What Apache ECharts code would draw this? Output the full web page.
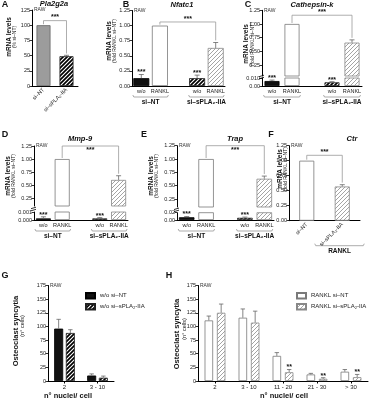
<!DOCTYPE html>
<html><head><meta charset="utf-8">
<script src="https://cdn.jsdelivr.net/npm/echarts@6/dist/echarts.min.js"></script>
<style>html,body{margin:0;padding:0;background:#fff}#c{width:374px;height:400px}</style>
</head><body><div id="c"></div>
<script>
// ---------------- DATA ----------------
const catsA = ['si–NT', 'si–sPLA₂-IIA'];
const valsA = [100, 49];
const errsA = [0, 1.5];

const catsBE = ['w/o', 'RANKL', '', 'w/o', 'RANKL'];
const groupNames = ['si–NT', 'si–sPLA₂-IIA'];
const starsBE = ['***', '', '', '***', ''];
const valsB = [0.13, 1.0, null, 0.13, 0.63];
const errsB = [0.06, 0, null, 0.05, 0.09];
const valsC = [0.0062, 1.0, null, 0.0046, 0.66];
const errsC = [0.0012, 0, null, 0.0008, 0.05];
const valsD = [0.0002, 1.0, null, 0.0002, 0.60];
const errsD = [0.0002, 0, null, 0.0001, 0.08];
const valsE = [0.0075, 1.0, null, 0.006, 0.63];
const errsE = [0.002, 0, null, 0.002, 0.05];

const catsF = ['si–NT', 'si–sPLA₂-IIA'];
const valsF = [1.0, 0.57];
const errsF = [0, 0.03];

const catsG = ['2', '3 - 10'];
const gNT = [96, 10], gNTErr = [17, 3];
const gSP = [88, 6], gSPErr = [6, 3];

const catsH = ['2', '3 - 10', '11 - 20', '21 - 30', '> 30'];
const hNT = [111, 116, 46, 12, 17], hNTErr = [8, 16, 6, 2, 4];
const hSP = [125, 107, 16, 4, 7], hSPErr = [16, 21, 5, 2, 5];
const hStars = ['', '', '**', '**', '**'];

const ticksPct = [0, 25, 50, 75, 100, 125];
const ticksFold = [0, 0.25, 0.5, 0.75, 1.0, 1.25];
const lowTicksC = [0, 0.01], lowTicksD = [0, 0.001], lowTicksE = [0, 0.02];
// ---------------------------------------

const FONT = '"Liberation Sans", Arial, sans-serif';
function hatch(fg, lw, size) {
  const c = document.createElement('canvas'); c.width = size; c.height = size;
  const g = c.getContext('2d'); g.fillStyle = '#fff'; g.fillRect(0, 0, size, size);
  g.strokeStyle = fg; g.lineWidth = lw; g.beginPath();
  g.moveTo(-1, size + 1); g.lineTo(size + 1, -1);
  g.moveTo(-1, 1); g.lineTo(1, -1);
  g.moveTo(size - 1, size + 1); g.lineTo(size + 1, size - 1);
  g.stroke(); return c;
}
const BH = { image: hatch('#000', 1.7, 4), repeat: 'repeat' };
const GH = { image: hatch('#9a9a9a', 0.9, 4), repeat: 'repeat' };
const ST = {
  black: { color: '#111', borderColor: '#000', borderWidth: 0.8 },
  white: { color: '#fff', borderColor: '#7a7a7a', borderWidth: 0.8 },
  grey: { color: '#9c9c9c', borderColor: '#666', borderWidth: 0.8 },
  bh: { color: BH, borderColor: '#222', borderWidth: 0.8 },
  gh: { color: GH, borderColor: '#888', borderWidth: 0.8 }
};

const grids = [], xAxes = [], yAxes = [], series = [];
let starTexts = [];
function axisX(gi, cats, show, extra) {
  xAxes.push(Object.assign({
    type: 'category', gridIndex: gi, data: cats, show: show,
    axisLine: { lineStyle: { color: '#000', width: 1 } },
    axisTick: { show: false },
    axisLabel: { interval: 0, fontSize: 5.5, color: '#222', margin: 2.5, fontFamily: FONT }
  }, extra || {}));
  return xAxes.length - 1;
}
function axisY(gi, min, max, ticks, fmt) {
  yAxes.push({
    type: 'value', gridIndex: gi, min: min, max: max, splitLine: { show: false },
    axisLine: { show: true, lineStyle: { color: '#000', width: 1 } },
    axisTick: { show: true, length: 2.5, customValues: ticks, lineStyle: { color: '#000', width: 0.8 } },
    axisLabel: { customValues: ticks, formatter: fmt, fontSize: 5.5, color: '#222', margin: 2, fontFamily: FONT }
  });
  return yAxes.length - 1;
}
function errSeries(xi, yi, items, offset, cap) {
  series.push({
    type: 'custom', xAxisIndex: xi, yAxisIndex: yi, clip: false, silent: true, z: 5,
    data: items,
    renderItem: function (params, api) {
      const c = api.value(0), v = api.value(1), e = api.value(2), s = starTexts[api.value(3)];
      const p0 = api.coord([c, v]), p1 = api.coord([c, v + e]);
      const x = p0[0] + offset, ch = [];
      if (e > 0) {
        ch.push({ type: 'line', shape: { x1: x, y1: p0[1], x2: x, y2: p1[1] }, style: { stroke: '#666', lineWidth: 0.8 } });
        ch.push({ type: 'line', shape: { x1: x - cap, y1: p1[1], x2: x + cap, y2: p1[1] }, style: { stroke: '#666', lineWidth: 0.8 } });
      }
      if (s) ch.push({ type: 'text', style: { text: s, x: x, y: p1[1] + 1.5, textAlign: 'center', align: 'center', textVerticalAlign: 'bottom', verticalAlign: 'bottom', fill: '#111', font: 'bold 7px ' + FONT } });
      return { type: 'group', children: ch };
    }
  });
}
function starIdx(s) { starTexts.push(s); return starTexts.length - 1; }

function barPanel(p) {
  const out = {};
  const fmt = p.fmt;
  const data = (filter) => p.vals.map((v, i) => (v == null || (filter && v < filter)) ? '-' : { value: v, itemStyle: ST[p.styles[i]] });
  if (!p.brk) {
    grids.push({ left: p.left, top: p.top, width: p.width, height: p.base - p.top });
    const gi = grids.length - 1;
    const xi = axisX(gi, p.cats, true, p.xExtra);
    const yi = axisY(gi, p.min || 0, p.max, p.ticks, fmt);
    series.push({ type: 'bar', xAxisIndex: xi, yAxisIndex: yi, data: data(), barWidth: p.bw, clip: true });
    const items = [];
    p.vals.forEach((v, i) => { if (v != null) items.push([i, v, p.errs[i], starIdx(p.stars ? p.stars[i] : '')]); });
    errSeries(xi, yi, items, 0, 2.5);
    out.up = out.low = { xi, yi };
  } else {
    const b = p.brk;
    grids.push({ left: p.left, top: p.top, width: p.width, height: b.ubottom - p.top });
    const gu = grids.length - 1;
    const xu = axisX(gu, p.cats, false);
    const yu = axisY(gu, b.umin, p.max, p.ticks.filter(t => t >= b.umin), fmt);
    grids.push({ left: p.left, top: b.ltop, width: p.width, height: p.base - b.ltop });
    const gl = grids.length - 1;
    const xl = axisX(gl, p.cats, true, p.xExtra);
    const yl = axisY(gl, 0, b.lmax, b.lticks, b.lfmt);
    series.push({ type: 'bar', xAxisIndex: xu, yAxisIndex: yu, data: data(b.umin), barWidth: p.bw, clip: true });
    series.push({ type: 'bar', xAxisIndex: xl, yAxisIndex: yl, data: data(), barWidth: p.bw, clip: true });
    const iu = [], il = [];
    p.vals.forEach((v, i) => {
      if (v == null) return;
      const it = [i, v, p.errs[i], starIdx(p.stars ? p.stars[i] : '')];
      (v + p.errs[i] <= b.lmax ? il : iu).push(it);
    });
    errSeries(xu, yu, iu, 0, 2.5);
    errSeries(xl, yl, il, 0, 2.5);
    out.up = { xi: xu, yi: yu }; out.low = { xi: xl, yi: yl };
  }
  return out;
}
const f2 = v => v.toFixed(2);
const f0 = v => String(v);
const rotLab = { axisLabel: { interval: 0, rotate: 45, fontSize: 5.5, color: '#222', margin: 3, fontFamily: FONT }, axisTick: { show: false } };

const PA = barPanel({ left: 32, top: 10, base: 86, width: 46, max: 125, ticks: ticksPct, fmt: f0, cats: catsA, vals: valsA, errs: errsA, styles: ['grey', 'bh'], bw: 14, xExtra: rotLab });
const PB = barPanel({ left: 132, top: 10.5, base: 86, width: 93, max: 1.25, ticks: ticksFold, fmt: f2, cats: catsBE, vals: valsB, errs: errsB, stars: starsBE, styles: ['black', 'white', 'white', 'bh', 'gh'], bw: 16 });
const PC = barPanel({ left: 262, top: 10.3, base: 86, width: 100, max: 1.25, ticks: ticksFold, fmt: f2, cats: catsBE, vals: valsC, errs: errsC, stars: starsBE, styles: ['black', 'white', 'white', 'bh', 'gh'], bw: 15,
  brk: { umin: 0.05, ubottom: 76, ltop: 78, lmax: 0.01, lticks: lowTicksC, lfmt: v => v === 0 ? '0.00' : '0.010' } });
const PD = barPanel({ left: 34, top: 146, base: 220, width: 94, max: 1.25, ticks: ticksFold, fmt: f2, cats: catsBE, vals: valsD, errs: errsD, stars: starsBE, styles: ['black', 'white', 'white', 'bh', 'gh'], bw: 15,
  brk: { umin: 0.1, ubottom: 206, ltop: 212, lmax: 0.001, lticks: lowTicksD, lfmt: v => v === 0 ? '0.000' : '0.001' } });
const PE = barPanel({ left: 177, top: 145.7, base: 220, width: 97, max: 1.25, ticks: ticksFold, fmt: f2, cats: catsBE, vals: valsE, errs: errsE, stars: starsBE, styles: ['black', 'white', 'white', 'bh', 'gh'], bw: 15.5,
  brk: { umin: 0.1, ubottom: 207, ltop: 212.7, lmax: 0.02, lticks: lowTicksE, lfmt: v => v === 0 ? '0.00' : '0.02' } });
const PF = barPanel({ left: 289, top: 145.7, base: 220.7, width: 71, max: 1.25, ticks: ticksFold, fmt: f2, cats: catsF, vals: valsF, errs: errsF, styles: ['white', 'gh'], bw: 15, xExtra: rotLab });

function groupPanel(p) {
  grids.push({ left: p.left, top: p.top, width: p.width, height: p.base - p.top });
  const gi = grids.length - 1;
  const xi = axisX(gi, p.cats, true, { axisTick: { show: true, alignWithLabel: true, length: 2.5, lineStyle: { color: '#000' } }, axisLabel: { interval: 0, fontSize: 6, color: '#222', margin: 3.5, fontFamily: FONT } });
  const yi = axisY(gi, 0, 175, [0, 25, 50, 75, 100, 125, 150, 175], f0);
  p.sets.forEach((s, k) => {
    series.push({ type: 'bar', name: s.name, xAxisIndex: xi, yAxisIndex: yi, data: s.vals, barWidth: p.bw, barGap: p.gap, itemStyle: ST[s.style] });
  });
  const off = (p.bw * (1 + parseFloat(p.gap) / 100)) / 2;
  p.sets.forEach((s, k) => {
    errSeries(xi, yi, s.vals.map((v, i) => [i, v, s.errs[i], starIdx(s.stars ? s.stars[i] : '')]), k === 0 ? -off : off, 2.2);
  });
  return { xi, yi };
}
const PG = groupPanel({ left: 48, top: 285.5, base: 381, width: 66, cats: catsG, bw: 9, gap: '30%',
  sets: [{ name: 'w/o si–NT', vals: gNT, errs: gNTErr, style: 'black' }, { name: 'w/o si–sPLA₂-IIA', vals: gSP, errs: gSPErr, style: 'bh' }] });
const PH = groupPanel({ left: 198, top: 285.5, base: 381, width: 170, cats: catsH, bw: 8.5, gap: '45%',
  sets: [{ name: 'RANKL si–NT', vals: hNT, errs: hNTErr, style: 'white' }, { name: 'RANKL si–sPLA₂-IIA', vals: hSP, errs: hSPErr, style: 'gh', stars: hStars }] });

const legendBase = { orient: 'vertical', icon: 'rect', itemWidth: 9, itemHeight: 5.5, itemGap: 3.5, textStyle: { fontSize: 6, color: '#222', fontFamily: FONT }, selectedMode: false };
const option = {
  animation: false, backgroundColor: '#fff',
  grid: grids, xAxis: xAxes, yAxis: yAxes, series: series,
  legend: [
    Object.assign({ left: 80, top: 287, data: ['w/o si–NT', 'w/o si–sPLA₂-IIA'] }, legendBase),
    Object.assign({ left: 291, top: 287, data: ['RANKL si–NT', 'RANKL si–sPLA₂-IIA'] }, legendBase)
  ]
};
const chart = echarts.init(document.getElementById('c'), null, { renderer: 'canvas', width: 374, height: 400 });
chart.setOption(option);

// ---------- annotations ----------
const els = [];
const px = (a, v) => chart.convertToPixel({ xAxisIndex: a.xi, yAxisIndex: a.yi }, v);
function txt(x, y, s, font, opts) {
  els.push(Object.assign({ type: 'text', x: x, y: y, silent: true, style: Object.assign({ text: s, font: font, fill: '#111', textAlign: 'center', align: 'center', textVerticalAlign: 'middle', verticalAlign: 'middle' }, (opts && opts.style) || {}) }, (opts && opts.el) || {}));
}
function line(pts, color, w) {
  els.push({ type: 'polyline', silent: true, shape: { points: pts }, style: { stroke: color || '#888', lineWidth: w || 0.8, fill: 'none' } });
}
function sig(a, c1, v1, c2, v2, lv, s, below) {
  const p1 = px(a, [c1, v1]), p2 = px(a, [c2, v2]), y = px(a, [c1, lv])[1];
  line([[p1[0], p1[1] - 1], [p1[0], y], [p2[0], y], [p2[0], p2[1] - 1.5]], '#999');
  txt((p1[0] + p2[0]) / 2, below ? y + 4.5 : y - 3.2, s, 'bold 7px ' + FONT);
}
function grp(a, c1, c2, hw, dy, s) {
  const p1 = px(a, [c1, 0]), p2 = px(a, [c2, 0]);
  const y = p1[1] + dy, x1 = p1[0] - hw, x2 = p2[0] + hw;
  line([[x1, y - 2], [x1 + 1, y], [x2 - 1, y], [x2, y - 2]], '#888', 0.7);
  txt((x1 + x2) / 2, y + 5.5, s, 'bold 6.5px ' + FONT);
}
function brkMark(a) {
  const up = px(a.up, [0, yAxes[a.up.yi].min]), lo = px(a.low, [0, yAxes[a.low.yi].max]);
  const x = grids[xAxes[a.low.xi].gridIndex].left, m = (up[1] + lo[1]) / 2;
  line([[x - 3, m - 0.3], [x + 2, m - 1.8]], '#000', 0.8);
  line([[x - 3, m + 1.8], [x + 2, m + 0.3]], '#000', 0.8);
}
sig(PA.up, 0, 100, 1, 51, 107.5, '***');
sig(PB.up, 1, 1.0, 4, 0.73, 1.06, '***');
sig(PC.up, 1, 1.0, 4, 0.72, 1.16, '***');
sig(PD.up, 1, 1.0, 4, 0.69, 1.25, '***', true);
sig(PE.up, 1, 1.0, 4, 0.69, 1.25, '***', true);
sig(PF.up, 0, 1.0, 1, 0.61, 1.09, '***');
[PB, PC, PD, PE].forEach(P => { grp(P.low, 0, 1, 8.5, 11, groupNames[0]); grp(P.low, 3, 4, 8.5, 11, groupNames[1]); });
(function () {
  const p1 = px(PF.low, [0, 0]), p2 = px(PF.low, [1, 0]);
  const y = p1[1] + 25, x1 = p1[0] + 8, x2 = p2[0] + 22;
  line([[x1, y - 2], [x1 + 1, y], [x2 - 1, y], [x2, y - 2]], '#888', 0.7);
  txt((x1 + x2) / 2, y + 6, 'RANKL', 'bold 6.5px ' + FONT);
})();
[PC, PD, PE].forEach(brkMark);
const TF = 'italic bold 7.5px ' + FONT, LF = 'bold 9px ' + FONT;
[['A', 5, 5], ['B', 126, 5], ['C', 248, 5], ['D', 5, 135], ['E', 144, 135], ['F', 271, 135], ['G', 5, 276], ['H', 169, 276]].forEach(l => txt(l[1], l[2], l[0], LF));
[['Pla2g2a', 54, 4], ['Nfatc1', 182, 4.5], ['Cathepsin-k', 312, 4.5], ['Mmp-9', 80, 139], ['Trap', 235, 139], ['Ctr', 352, 139]].forEach(l => txt(l[1], l[2], l[0], TF));
[[34, 10], [134, 10.5], [264, 10.3], [36, 146], [179, 145.7], [291, 145.7], [50, 286], [200, 286]].forEach(r => txt(r[0], r[1], 'RAW', '5px ' + FONT, { style: { textAlign: 'left', align: 'left', fill: '#333' } }));
const rot = { el: { rotation: Math.PI / 2 } };
function yname(x1, x2, y, a, b, big) {
  txt(x1, y, a, 'bold ' + (big ? 7.5 : 6.5) + 'px ' + FONT, rot);
  txt(x2, y + (big ? -5 : 0), b, (big ? 5.5 : 5) + 'px ' + FONT, rot);
}
yname(9, 15, 37, 'mRNA levels', '(% si–NT)');
yname(109, 115, 41, 'mRNA levels', '(fold RANKL si–NT)');
yname(246.5, 252.5, 44, 'mRNA levels', '(fold RANKL si–NT)');
yname(8, 14, 176, 'mRNA levels', '(fold RANKL si–NT)');
yname(151, 157, 176, 'mRNA levels', '(fold RANKL si–NT)');
yname(280, 286, 169, 'mRNA levels', '(fold RANKL si–NT)');
yname(16, 22.5, 331, 'Osteoclast syncytia', '(n° cells)', true);
yname(176.5, 184, 334, 'Osteoclast syncytia', '(n° cells)', true);
txt(68, 396, 'n° nuclei/ cell', 'bold 7.5px ' + FONT);
txt(284, 396, 'n° nuclei/ cell', 'bold 7.5px ' + FONT);
chart.setOption({ graphic: { elements: els } });
</script></body></html>
